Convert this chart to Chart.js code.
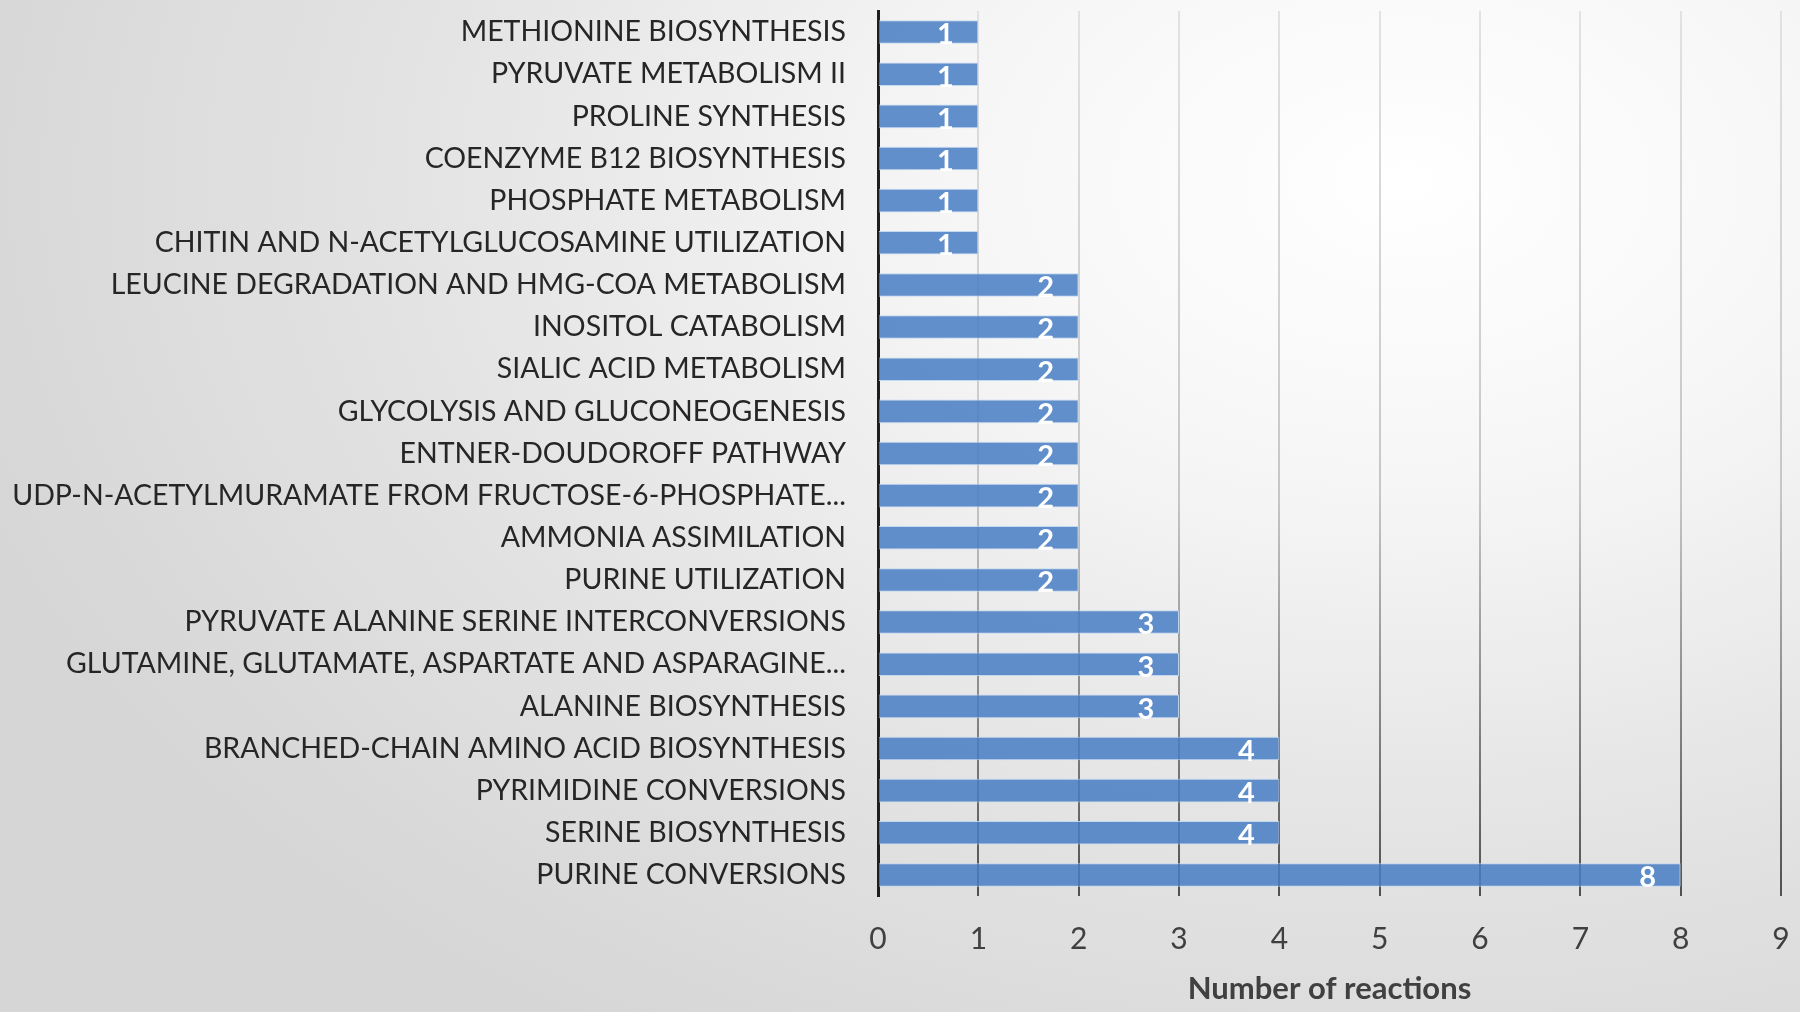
<!DOCTYPE html>
<html>
<head>
<meta charset="utf-8">
<script src="https://cdn.jsdelivr.net/npm/chart.js@4.4.1/dist/chart.umd.min.js"></script>
<style>
  html, body { margin: 0; padding: 0; }
  body {
    width: 1800px; height: 1012px; overflow: hidden;
    background: radial-gradient(ellipse 1500px 1000px at 78% 18%, #ffffff 0%, #f6f6f6 30%, #e4e4e4 65%, #d6d6d6 100%);
  }
  #chart { display: block; }
</style>
</head>
<body>
<canvas id="chart" width="1800" height="1012"></canvas>
<script>
var pathways = [
    "METHIONINE BIOSYNTHESIS",
    "PYRUVATE METABOLISM II",
    "PROLINE SYNTHESIS",
    "COENZYME B12 BIOSYNTHESIS",
    "PHOSPHATE METABOLISM",
    "CHITIN AND N-ACETYLGLUCOSAMINE UTILIZATION",
    "LEUCINE DEGRADATION AND HMG-COA METABOLISM",
    "INOSITOL CATABOLISM",
    "SIALIC ACID METABOLISM",
    "GLYCOLYSIS AND GLUCONEOGENESIS",
    "ENTNER-DOUDOROFF PATHWAY",
    "UDP-N-ACETYLMURAMATE FROM FRUCTOSE-6-PHOSPHATE...",
    "AMMONIA ASSIMILATION",
    "PURINE UTILIZATION",
    "PYRUVATE ALANINE SERINE INTERCONVERSIONS",
    "GLUTAMINE, GLUTAMATE, ASPARTATE AND ASPARAGINE...",
    "ALANINE BIOSYNTHESIS",
    "BRANCHED-CHAIN AMINO ACID BIOSYNTHESIS",
    "PYRIMIDINE CONVERSIONS",
    "SERINE BIOSYNTHESIS",
    "PURINE CONVERSIONS"
];
var reactions = [1, 1, 1, 1, 1, 1, 2, 2, 2, 2, 2, 2, 2, 2, 3, 3, 3, 4, 4, 4, 8];
var xTicks = [0, 1, 2, 3, 4, 5, 6, 7, 8, 9];
var xTitle = "Number of reactions";

var FONT = "Lato, 'Open Sans', sans-serif";

// white value labels at the inner end of each bar
var barLabels = {
    id: 'barLabels',
    afterDatasetsDraw: function(chart) {
        let ctx = chart.ctx;
        let meta = chart.getDatasetMeta(0);
        ctx.save();
        ctx.fillStyle = '#ffffff';
        ctx.font = "bold 29px " + FONT;
        ctx.textAlign = 'center';
        ctx.textBaseline = 'middle';
        meta.data.forEach(function(bar, i) {
            ctx.fillText(reactions[i], bar.x - 33, bar.y + 3);
        });
        ctx.restore();
    }
};

function gridColor(context) {
    let chart = context.chart;
    let area = chart.chartArea;
    if (!area) return '#bbbbbb';
    let g = chart.ctx.createLinearGradient(0, area.top, 0, area.bottom);
    g.addColorStop(0, '#e2e2e2');
    g.addColorStop(0.55, '#c6c6c6');
    g.addColorStop(1, '#505050');
    return g;
}

new Chart(document.getElementById('chart').getContext('2d'), {
    type: 'bar',
    data: {
        labels: pathways,
        datasets: [{
            data: reactions,
            backgroundColor: 'rgba(72, 126, 196, 0.86)',
            borderColor: 'rgba(190, 214, 240, 0.9)',
            borderWidth: 1,
            barPercentage: 0.56,
            categoryPercentage: 1
        }]
    },
    options: {
        indexAxis: 'y',
        responsive: false,
        devicePixelRatio: 1,
        animation: false,
        layout: { padding: { top: 11, right: 19, bottom: 4, left: 0 } },
        plugins: {
            legend: { display: false },
            tooltip: { enabled: false }
        },
        scales: {
            x: {
                min: 0,
                max: 9,
                afterBuildTicks: function(scale) {
                    scale.ticks = xTicks.map(function(v) { return { value: v }; });
                },
                afterFit: function(scale) {
                    scale.paddingLeft = 0;
                    scale.paddingRight = 0;
                    scale.height = 112;
                },
                grid: {
                    color: gridColor,
                    lineWidth: 2,
                    drawTicks: false
                },
                border: { display: false },
                ticks: {
                    color: '#404040',
                    font: { family: FONT, size: 30 },
                    padding: 25
                },
                title: {
                    display: true,
                    text: xTitle,
                    color: '#404040',
                    font: { family: FONT, size: 31, weight: 'bold' },
                    padding: { top: 0, bottom: 0 }
                }
            },
            y: {
                afterFit: function(scale) {
                    scale.width = 878;
                    scale.paddingTop = 0;
                    scale.paddingBottom = 0;
                },
                grid: { display: false, drawTicks: false },
                border: { display: true, color: '#1e1e1e', width: 3 },
                ticks: {
                    color: '#262626',
                    font: { family: FONT, size: 28.5 },
                    padding: 32,
                    autoSkip: false
                }
            }
        }
    },
    plugins: [barLabels]
});
</script>
</body>
</html>
